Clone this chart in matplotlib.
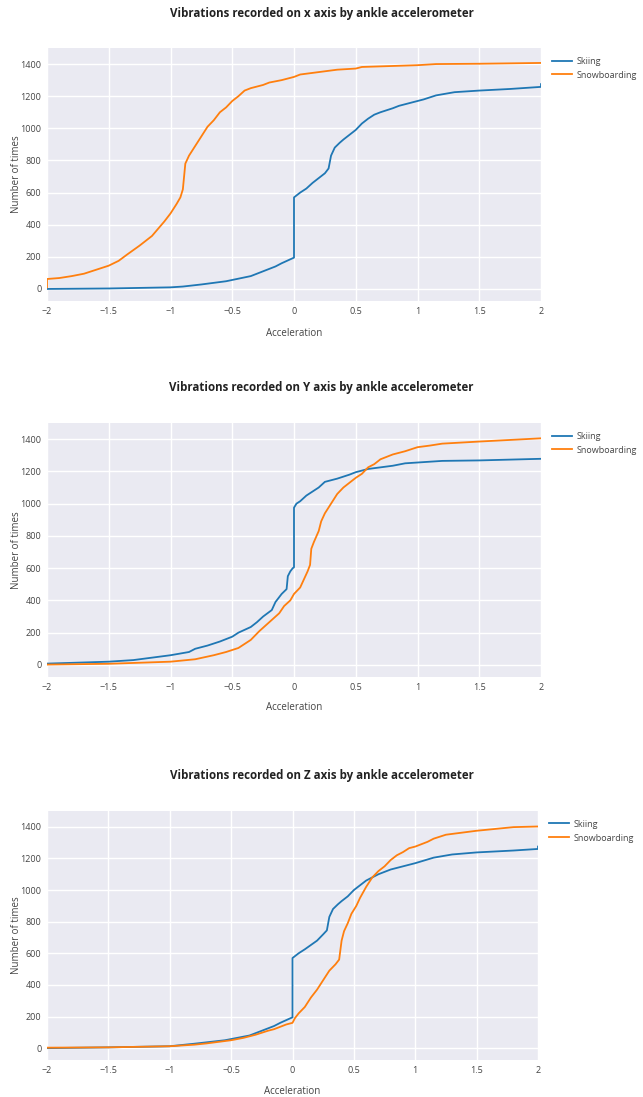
import matplotlib
matplotlib.use("Agg")
import matplotlib.pyplot as plt

# ---------------- data ----------------
titles = ["Vibrations recorded on x axis by ankle accelerometer",
          "Vibrations recorded on Y axis by ankle accelerometer",
          "Vibrations recorded on Z axis by ankle accelerometer"]
series_names = ["Skiing", "Snowboarding"]
x_ticks = [-2, -1.5, -1, -0.5, 0, 0.5, 1, 1.5, 2]
x_tick_labels = ["\u22122", "\u22121.5", "\u22121", "\u22120.5", "0", "0.5", "1", "1.5", "2"]
y_ticks = [0, 200, 400, 600, 800, 1000, 1200, 1400]

ski_x_acc = [-2, -1.5, -1, -0.9, -0.75, -0.55, -0.35, -0.25, -0.15, -0.1, 0, 0, 0.05, 0.1, 0.15,
             0.2, 0.25, 0.28, 0.3, 0.33, 0.37, 0.4, 0.45, 0.5, 0.55, 0.6, 0.65, 0.7, 0.8, 0.85,
             0.95, 1.05, 1.15, 1.3, 1.5, 1.75, 2.0, 2.0]
ski_x_cnt = [0, 3, 10, 15, 28, 48, 80, 110, 140, 160, 195, 570, 600, 625, 660,
             690, 720, 750, 830, 880, 910, 930, 960, 990, 1030, 1060, 1085, 1100, 1125, 1140,
             1160, 1180, 1205, 1225, 1235, 1245, 1258, 1275]
snow_x_acc = [-2, -2, -1.9, -1.8, -1.7, -1.6, -1.5, -1.42, -1.35, -1.25, -1.15, -1.05, -1.0, -0.95,
              -0.92, -0.9, -0.89, -0.88, -0.85, -0.8, -0.75, -0.7, -0.65, -0.6, -0.55, -0.5, -0.45,
              -0.4, -0.35, -0.25, -0.2, -0.1, 0, 0.05, 0.2, 0.35, 0.5, 0.55, 1.0, 1.15, 1.5, 2.0]
snow_x_cnt = [10, 62, 68, 80, 95, 120, 145, 175, 215, 270, 330, 420, 470, 530,
              570, 620, 700, 780, 830, 890, 950, 1010, 1050, 1100, 1130, 1170, 1200,
              1235, 1250, 1270, 1285, 1300, 1320, 1335, 1350, 1365, 1372, 1382, 1393, 1400, 1402, 1407]

ski_y_acc = [-2, -1.5, -1.3, -1.15, -1.0, -0.85, -0.8, -0.7, -0.6, -0.5, -0.45, -0.35, -0.3, -0.25,
             -0.18, -0.15, -0.1, -0.06, -0.05, -0.03, -0.01, 0, 0, 0.02, 0.05, 0.1, 0.15, 0.2, 0.25,
             0.3, 0.35, 0.45, 0.5, 0.6, 0.8, 0.9, 1.2, 1.5, 2.0]
ski_y_cnt = [8, 20, 30, 45, 60, 80, 100, 120, 145, 175, 200, 235, 265, 300,
             340, 390, 440, 470, 550, 580, 600, 605, 975, 1000, 1015, 1050, 1075, 1100, 1135,
             1145, 1155, 1180, 1195, 1215, 1235, 1250, 1265, 1268, 1278]
snow_y_acc = [-2, -1.5, -1.0, -0.8, -0.65, -0.55, -0.45, -0.35, -0.28, -0.2, -0.12, -0.08, -0.03, 0,
              0.05, 0.08, 0.11, 0.13, 0.14, 0.16, 0.2, 0.22, 0.25, 0.3, 0.35, 0.4, 0.5, 0.55, 0.6,
              0.65, 0.7, 0.8, 0.9, 1.0, 1.1, 1.2, 1.5, 2.0]
snow_y_cnt = [2, 7, 20, 35, 60, 80, 105, 155, 210, 265, 320, 365, 400, 440,
              480, 530, 580, 620, 720, 760, 830, 890, 940, 1000, 1060, 1100, 1160, 1185, 1225,
              1245, 1275, 1305, 1325, 1350, 1360, 1372, 1385, 1405]

ski_z_acc = [-2, -1.5, -1, -0.8, -0.55, -0.35, -0.25, -0.15, -0.1, 0, 0, 0.05, 0.1, 0.2, 0.25,
             0.28, 0.3, 0.33, 0.37, 0.4, 0.45, 0.5, 0.55, 0.6, 0.65, 0.7, 0.8, 0.9, 1.0, 1.15,
             1.3, 1.5, 1.8, 2.0, 2.0]
ski_z_cnt = [0, 5, 12, 28, 50, 80, 110, 140, 160, 195, 570, 600, 625, 680, 720,
             745, 830, 880, 910, 930, 960, 1000, 1030, 1060, 1080, 1100, 1130, 1150, 1170, 1205,
             1225, 1238, 1250, 1260, 1275]
snow_z_acc = [-2, -1.5, -1.0, -0.8, -0.7, -0.5, -0.4, -0.3, -0.2, -0.15, -0.05, 0, 0.02, 0.05,
              0.1, 0.15, 0.2, 0.25, 0.3, 0.35, 0.38, 0.4, 0.42, 0.45, 0.48, 0.52, 0.55, 0.6, 0.65,
              0.7, 0.75, 0.8, 0.85, 0.9, 0.95, 1.0, 1.05, 1.1, 1.15, 1.25, 1.5, 1.8, 2.0]
snow_z_cnt = [3, 5, 12, 22, 30, 50, 65, 85, 110, 120, 150, 160, 190, 220,
              260, 320, 370, 430, 490, 530, 560, 680, 740, 790, 850, 900, 950, 1020, 1080,
              1120, 1150, 1190, 1220, 1240, 1265, 1275, 1290, 1305, 1325, 1350, 1375, 1398, 1402]

panels = [
    (ski_x_acc, ski_x_cnt, snow_x_acc, snow_x_cnt),
    (ski_y_acc, ski_y_cnt, snow_y_acc, snow_y_cnt),
    (ski_z_acc, ski_z_cnt, snow_z_acc, snow_z_cnt),
]

# ---------------- style ----------------
W, H = 643, 1097
DPI = 100
colors = ["#1f77b4", "#ff7f0e"]
bg = "#EAEAF2"
txt = "#444444"
plt.rcParams['font.family'] = ['Open Sans', 'DejaVu Sans']

fig = plt.figure(figsize=(W / DPI, H / DPI), dpi=DPI)

# axes boxes in pixels: (left, top, right, bottom)
boxes = [(47, 48, 541, 301), (47, 423, 541, 677), (47, 811, 538, 1060)]
title_y = [13, 388, 775]
xlabel_y = [333, 708, 1092]

for i, (box, (sa, sc, na, nc)) in enumerate(zip(boxes, panels)):
    l, t, r, b = box
    ax = fig.add_axes([l / W, 1 - b / H, (r - l) / W, (b - t) / H])
    ax.set_facecolor(bg)
    for s in ax.spines.values():
        s.set_visible(False)
    ax.grid(True, color="white", linewidth=1.0)
    ax.set_axisbelow(True)
    ax.plot(sa, sc, color=colors[0], linewidth=1.3, label=series_names[0])
    ax.plot(na, nc, color=colors[1], linewidth=1.3, label=series_names[1])
    ax.set_xlim(-2, 2)
    ax.set_ylim(-75, 1500)
    ax.set_xticks(x_ticks)
    ax.set_xticklabels(x_tick_labels)
    ax.set_yticks(y_ticks)
    ax.tick_params(length=0, labelsize=6.5, colors=txt, pad=4)
    ax.legend(loc="upper left", bbox_to_anchor=(1.015, 0.98), frameon=False,
              fontsize=6.5, handlelength=2.2, labelcolor=txt, borderaxespad=0,
              handletextpad=0.5, labelspacing=0.55)
    fig.text(0.5, 1 - title_y[i] / H, titles[i], ha="center", va="center",
             fontsize=8.3, fontweight="bold", color="#222222")
    fig.text((l + r) / 2 / W, 1 - xlabel_y[i] / H, "Acceleration", ha="center", va="center",
             fontsize=7, color=txt)
    fig.text(17 / W, 1 - (t + b) / 2 / H, "Number of times", ha="center", va="center",
             rotation=90, fontsize=7, color=txt)

fig.savefig("out.png", dpi=DPI)
